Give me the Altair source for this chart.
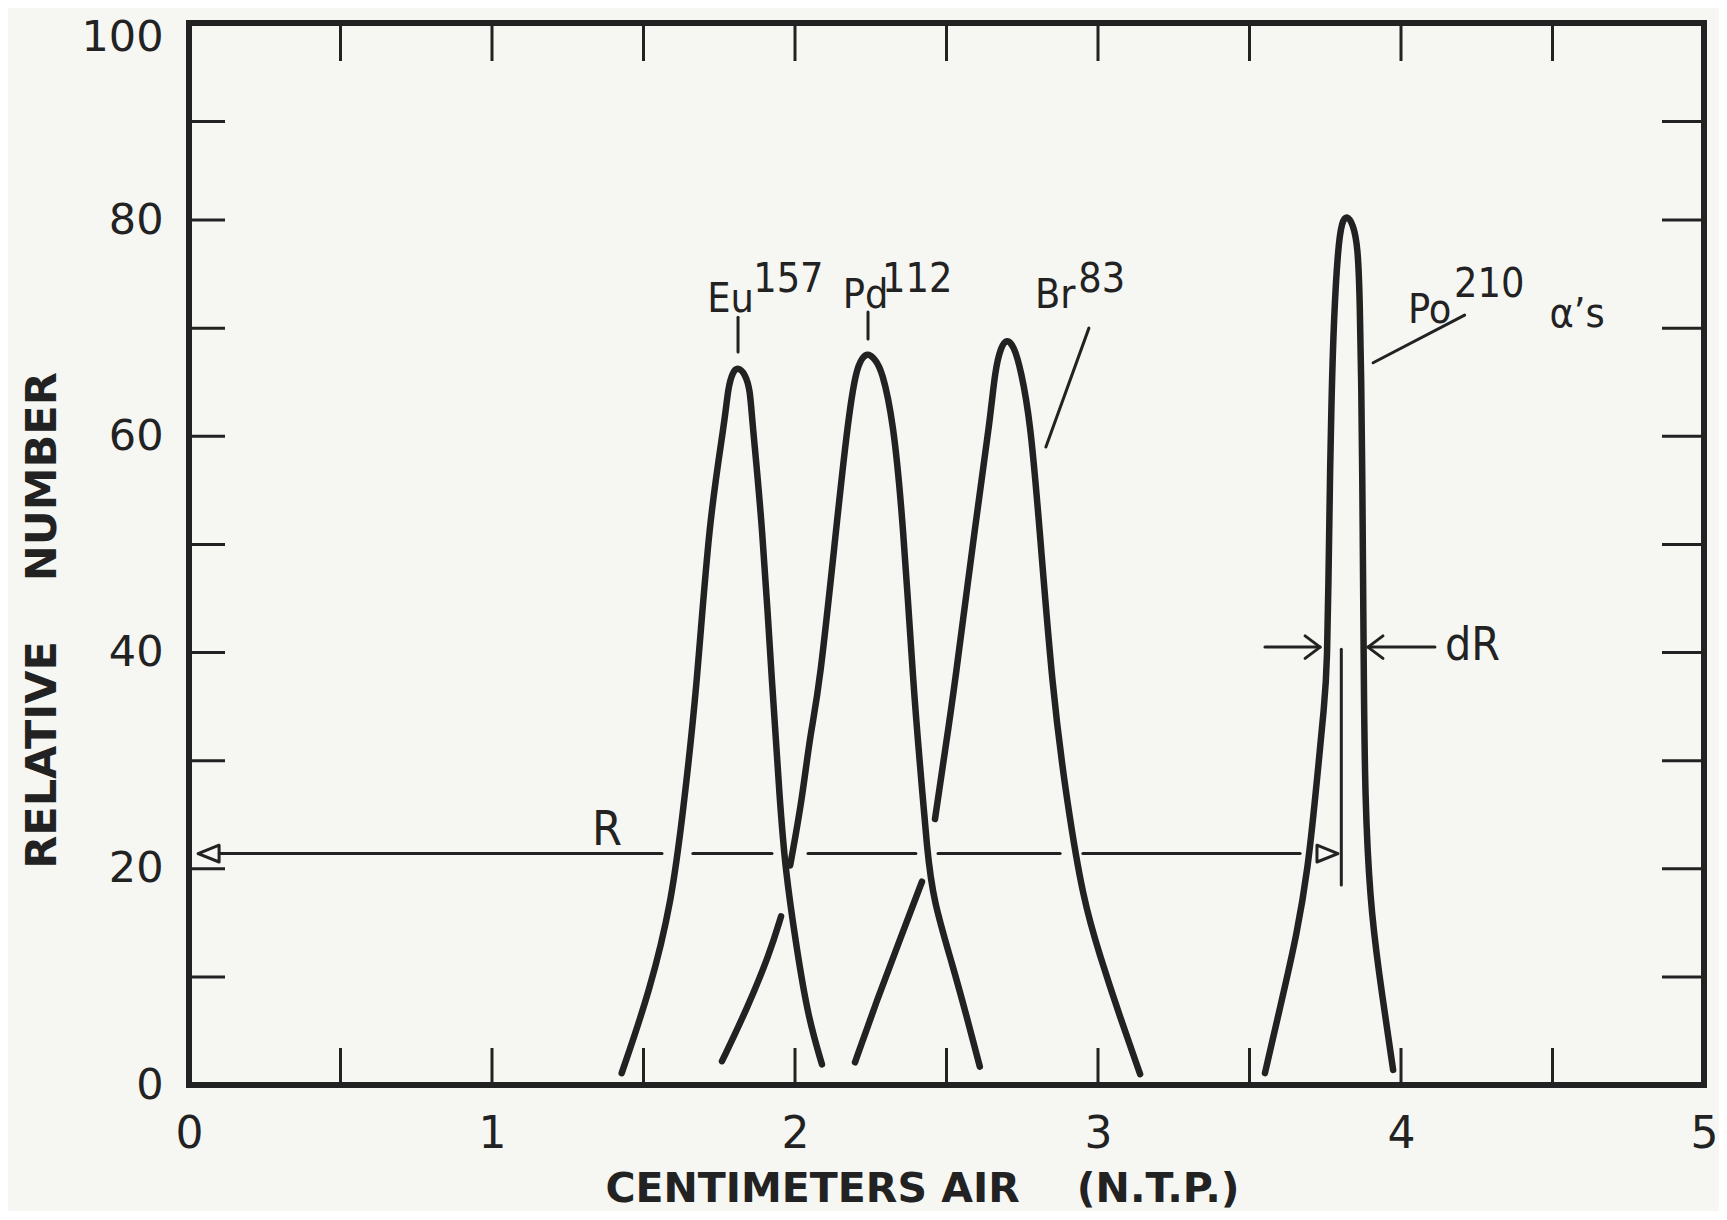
import altair as alt
import pandas as pd

INK = "#222222"
PAPER = "#f6f6f3"
W, H = 1515, 1062
LABEL_FONT = "'DejaVu Sans Condensed', 'DejaVu Sans'"

# ---- curve segments (x = cm air, y = relative number) ----
eu_x = [1.428, 1.521, 1.594, 1.631, 1.675, 1.716, 1.769, 1.779, 1.795, 1.812, 1.835, 1.852, 1.858, 1.891, 1.926, 1.950, 1.967, 2.006, 2.043, 2.089]
eu_y = [1.1, 8.7, 17.1, 25.4, 36.3, 52.3, 61.5, 64.5, 66.0, 66.4, 65.8, 64.3, 61.5, 52.3, 36.3, 26.3, 20.1, 12.5, 6.3, 1.9]

pd_x = [1.984, 2.023, 2.050, 2.080, 2.139, 2.175, 2.201, 2.222, 2.241, 2.265, 2.287, 2.324, 2.356, 2.392, 2.413, 2.436, 2.456, 2.522, 2.567, 2.610]
pd_y = [20.3, 26.3, 32.5, 36.5, 52.3, 61.5, 66.1, 67.3, 67.7, 67.1, 66.1, 61.5, 52.3, 36.3, 29.5, 21.7, 17.1, 10.9, 6.3, 1.7]

pdl_x = [1.759, 1.841, 1.917, 1.954]
pdl_y = [2.2, 7.0, 12.2, 15.6]

br_x = [2.462, 2.495, 2.525, 2.597, 2.644, 2.660, 2.680, 2.699, 2.722, 2.746, 2.776, 2.805, 2.850, 2.897, 2.951, 3.007, 3.070, 3.139]
br_y = [24.6, 30.9, 36.5, 52.3, 61.5, 66.1, 68.3, 69.0, 68.4, 66.1, 61.5, 52.3, 36.3, 26.3, 17.1, 11.9, 6.5, 1.0]

brl_x = [2.198, 2.271, 2.347, 2.419]
brl_y = [2.1, 7.9, 13.5, 18.8]

po_x = [3.551, 3.607, 3.657, 3.693, 3.716, 3.749, 3.756, 3.762, 3.766, 3.771, 3.778, 3.792, 3.805, 3.822, 3.842, 3.858, 3.864, 3.869, 3.872, 3.875, 3.877, 3.881, 3.898, 3.924, 3.974]
po_y = [1.1, 7.9, 14.0, 20.1, 26.3, 35.7, 38.7, 49.1, 57.2, 63.8, 70.7, 77.5, 79.9, 80.5, 79.6, 77.5, 72.6, 64.8, 57.2, 46.2, 38.7, 26.3, 17.1, 10.9, 1.4]

# ---- axis: the hand-drawn scale is evenly spaced up to 80 and compressed from 80 to 100 ----
y_knots = [0, 80, 100]
y_knot_px = [H, H - 865, 0]
x_minor = [0.5, 1.0, 1.5, 2.0, 2.5, 3.0, 3.5, 4.0, 4.5]
y_minor = [10, 20, 30, 40, 50, 60, 70, 80, 90]
x_labels = [0, 1, 2, 3, 4, 5]
y_labels = [0, 20, 40, 60, 80, 100]

# ---- annotation lines: R dashes, dR marker, dR arrows, label pointers ----
ann_x1 = [0.10, 1.663, 2.043, 2.472, 2.950, 3.803, 3.551, 4.112, 1.812, 2.241, 2.970, 4.210]
ann_x2 = [1.561, 1.924, 2.399, 2.875, 3.667, 3.803, 3.733, 3.891, 1.812, 2.241, 2.828, 3.908]
ann_y1 = [21.4, 21.4, 21.4, 21.4, 21.4, 40.3, 40.5, 40.5, 71.0, 71.5, 70.0, 71.2]
ann_y2 = [21.4, 21.4, 21.4, 21.4, 21.4, 18.5, 40.5, 40.5, 67.8, 69.0, 59.0, 66.8]

# ---- arrowheads ----
head_x = [0.03, 3.792, 3.733, 3.891]
head_y = [21.4, 21.4, 40.5, 40.5]
head_shape = ["M0,0L1,-0.4L1,0.4Z", "M0,0L-1,-0.4L-1,0.4Z", "M-1,-0.75L0,0L-1,0.75", "M1,-0.75L0,0L1,0.75"]
head_size = [1764, 1764, 900, 900]

# ---- text labels ----
lab_text = ["Eu", "157", "Pd", "112", "Br", "83", "Po", "210", "α’s", "dR", "R"]
lab_x = [1.710, 1.862, 2.158, 2.287, 2.792, 2.935, 4.023, 4.175, 4.490, 4.145, 1.330]
lab_y = [71.5, 73.3, 71.9, 73.3, 71.9, 73.3, 70.5, 72.9, 70.1, 39.3, 22.2]
lab_size = [41, 41, 41, 41, 41, 41, 41, 41, 41, 46, 48]

# ---------------------------------------------------------------------------
rows = []
for name, xs, ys in [("eu", eu_x, eu_y), ("pd", pd_x, pd_y), ("pdl", pdl_x, pdl_y),
                     ("br", br_x, br_y), ("brl", brl_x, brl_y), ("po", po_x, po_y)]:
    for a, b in zip(xs, ys):
        rows.append({"seg": name, "x": a, "y": b})
curves = pd.DataFrame(rows)

ann = pd.DataFrame({"x": ann_x1, "x2": ann_x2, "y": ann_y1, "y2": ann_y2})
heads = pd.DataFrame({"x": head_x, "y": head_y, "shape": head_shape, "size": head_size})
labs = pd.DataFrame({"x": lab_x, "y": lab_y, "text": lab_text, "size": lab_size})

x_sc = alt.Scale(domain=[0, 5], nice=False, zero=False)
y_sc = alt.Scale(domain=y_knots, range=y_knot_px, nice=False, zero=False)

x_axis = alt.Axis(values=x_labels, format="d", domain=False, ticks=False, tickSize=0, grid=False,
                  labelFont="DejaVu Sans", labelFontSize=44, labelColor=INK, labelPadding=27,
                  labelFlush=False, labelOverlap=False,
                  title="CENTIMETERS\u00a0AIR\u00a0\u00a0\u00a0\u00a0(N.T.P.)",
                  titleFont="DejaVu Sans", titleFontWeight="bold", titleFontSize=41,
                  titleColor=INK, titleX=733, titleY=116, titleBaseline="alphabetic",
                  titleAlign="center")
y_axis = alt.Axis(values=y_labels, format="d", domain=False, ticks=False, tickSize=0, grid=False,
                  labelFont="DejaVu Sans", labelFontSize=43, labelColor=INK, labelPadding=26,
                  labelOffset={"condition": {"test": "datum.value == 100", "value": 14}, "value": 0},
                  labelFlush=False, labelOverlap=False,
                  title="RELATIVE\u00a0\u00a0\u00a0\u00a0NUMBER",
                  titleFont="DejaVu Sans", titleFontWeight="bold", titleFontSize=43,
                  titleColor=INK, titleAngle=270, titleX=-134, titleY=597,
                  titleBaseline="alphabetic", titleAlign="center")

X = lambda f="x": alt.X(f"{f}:Q", scale=x_sc, axis=x_axis)
Y = lambda f="y": alt.Y(f"{f}:Q", scale=y_sc, axis=y_axis)

xt = pd.DataFrame({"x": x_minor})
yt = pd.DataFrame({"y": y_minor})

bottom_ticks = alt.Chart(xt).mark_rule(strokeWidth=3, color=INK).encode(
    x=X(), y=alt.value(H - 37), y2=alt.value(H))
top_ticks = alt.Chart(xt).mark_rule(strokeWidth=3, color=INK).encode(
    x=X(), y=alt.value(0), y2=alt.value(38))
left_ticks = alt.Chart(yt).mark_rule(strokeWidth=3, color=INK).encode(
    y=Y(), x=alt.value(0), x2=alt.value(36))
right_ticks = alt.Chart(yt).mark_rule(strokeWidth=3, color=INK).encode(
    y=Y(), x=alt.value(W - 42), x2=alt.value(W))

ann_layer = alt.Chart(ann).mark_rule(strokeWidth=3, color=INK, strokeCap="round").encode(
    x=X(), x2="x2:Q", y=Y(), y2="y2:Q")

head_layer = alt.Chart(heads).mark_point(filled=False, strokeWidth=3, color=INK, opacity=1,
                                         strokeJoin="round", strokeCap="round").encode(
    x=X(), y=Y(), shape=alt.Shape("shape:N", scale=None), size=alt.Size("size:Q", scale=None))

lines = alt.Chart(curves).mark_line(interpolate="basis", strokeWidth=6.5, color=INK,
                                    strokeCap="round", strokeJoin="round").encode(
    x=X(), y=Y(), detail="seg:N")

text_layer = alt.Chart(labs).mark_text(align="left", baseline="alphabetic", font=LABEL_FONT,
                                       color=INK).encode(
    x=X(), y=Y(), text="text:N", size=alt.Size("size:Q", scale=None))

chart = alt.layer(bottom_ticks, top_ticks, left_ticks, right_ticks, ann_layer, head_layer,
                  lines, text_layer).properties(
    width=W, height=H,
    autosize=alt.AutoSizeParams(type="none"),
    padding={"left": 181, "top": 15, "right": 15, "bottom": 126},
    background=PAPER,
).configure_view(stroke=INK, strokeWidth=6)

chart.save("out.html", embed_options={"renderer": "svg", "actions": False})
